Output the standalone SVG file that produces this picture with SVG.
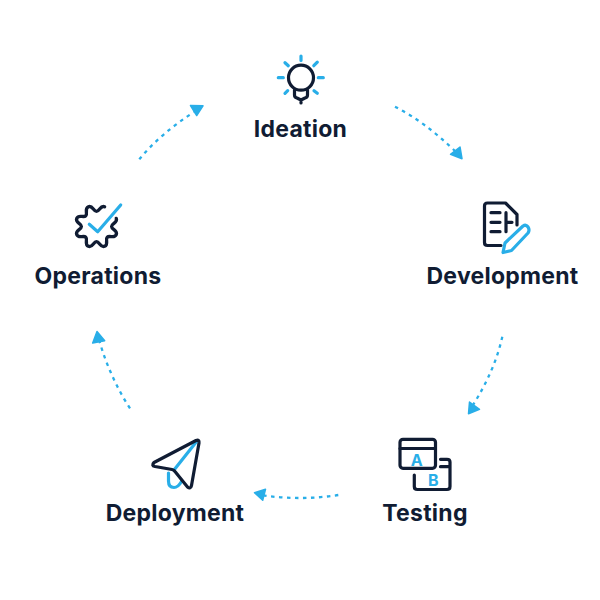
<svg xmlns="http://www.w3.org/2000/svg" width="600" height="600" viewBox="0 0 600 600">
<style>
.bg{fill:#fff}
.d{fill:none;stroke:#101c33;stroke-width:3.200;stroke-linecap:round;stroke-linejoin:round}
.b{fill:none;stroke:#29aee8;stroke-width:3.200;stroke-linecap:round;stroke-linejoin:round}
.l{font-family:"Inter","Liberation Sans",sans-serif;font-weight:700;font-size:23px;letter-spacing:.25px;fill:#101c33;text-anchor:middle}
.t{font-family:"Inter","Liberation Sans",sans-serif;font-weight:700;font-size:16px;fill:#29aee8;text-anchor:middle}
.c{fill:none;stroke:#29aee8;stroke-width:2.300;stroke-dasharray:3.500 4.500}
.h{fill:#29aee8;stroke:#29aee8;stroke-width:1.500;stroke-linejoin:round}
</style>
<rect class="bg" width="600" height="600"/>
<g id="connectors">
<path class="c" d="M139.300 159.300Q160 134 194 112"/>
<polygon class="h" points="190.500,105.500 203,105.800 196.700,115.500"/>
<path class="c" d="M395 106.700Q425 122 455 151"/>
<polygon class="h" points="450.500,154.300 460,147 462,158.700"/>
<path class="c" d="M502.300 336.700Q495 370 473 405"/>
<polygon class="h" points="469.500,402 479.500,409.300 468.500,413.700"/>
<path class="c" d="M338.300 495Q300 501 260 495"/>
<polygon class="h" points="254.500,492.700 265.500,489.300 262.700,500.300"/>
<path class="c" d="M130 408.300Q110 378 98.500 338"/>
<polygon class="h" points="97,331.500 104.700,340.700 92.700,343"/>
</g>
<g id="ideation">
<circle class="d" cx="301" cy="77.700" r="12.500"/>
<path class="d" d="M294.500 90V95Q294.500 97.500 297 98L301 100L305 98Q307.500 97.500 307.500 95V90M301 100V103"/>
<path class="b" d="M301 56V60.500M285 62.700L288.300 65.700M317.300 62.200L313.800 65.700M278.300 77.700H283.300M318.300 77.700H323.300M285 93.300L287.700 90.700M317.300 93.300L314 90.700"/>
<text class="l" x="300.500" y="137">Ideation</text>
</g>
<g id="development">
<path class="d" d="M517 225V214.500L505.500 203H487.500Q484.500 203 484.500 206V242.500Q484.500 245.500 487.500 245.500H501M491 212.700H500M491 222.300H500M491 231.700H500M506 212.700V231.700M506 222.300H512"/>
<path class="b" d="M503 252.500L505 243L523 226Q526 224 528 227Q530 230 528 233L511.500 250.500Z"/>
<text class="l" x="502.500" y="284">Development</text>
</g>
<g id="testing">
<rect class="d" x="400" y="439.300" width="35.500" height="29" rx="3"/>
<path class="d" d="M400 448.500H435.500M414.300 475V486.500Q414.300 489.500 417.300 489.500H447Q450 489.500 450 486.500V462Q450 459.300 447 459.300H440.500M440.500 466.700H450"/>
<text class="t" x="416.700" y="465.500">A</text>
<text class="t" x="433.300" y="486">B</text>
<text class="l" x="425" y="521">Testing</text>
</g>
<g id="deployment">
<path class="b" d="M197 441L174 470M168.500 473V481Q168.500 487.500 174 487.500Q178 487.500 181.500 481.500"/>
<path class="d" d="M196 440.500Q199.500 439 199 443L191.500 485.500Q190.500 489.500 187.500 487L175 471.500Q174 470 172 469.500L155 466.500Q151 465.500 154 462.500Z"/>
<text class="l" x="175" y="521">Deployment</text>
</g>
<g id="operations">
<path class="d" transform="translate(-3.860 -8.540) scale(1.040)" d="M104.300 207C100.200 205.300 99.500 211.500 96.500 211.500C93.500 211.500 92.800 205.300 88.700 207C84.600 208.700 88.300 213.600 86.200 215.700C84.100 217.800 79.200 214.100 77.500 218.200C75.800 222.300 82 223 82 226C82 229 75.800 229.700 77.500 233.800C79.200 237.900 84.100 234.200 86.200 236.300C88.300 238.400 84.600 243.300 88.700 245C92.800 246.700 93.500 240.500 96.500 240.500C99.500 240.500 100.200 246.700 104.300 245C108.400 243.300 104.700 238.400 106.800 236.300C108.900 234.200 113.800 237.900 115.500 233.800C117.200 229.700 111 229 111 226C111 223 117.200 222.300 115.500 218.200"/>
<path class="b" d="M89.300 224.300L97.700 231.700L120.700 205"/>
<text class="l" x="98" y="284">Operations</text>
</g>
</svg>
